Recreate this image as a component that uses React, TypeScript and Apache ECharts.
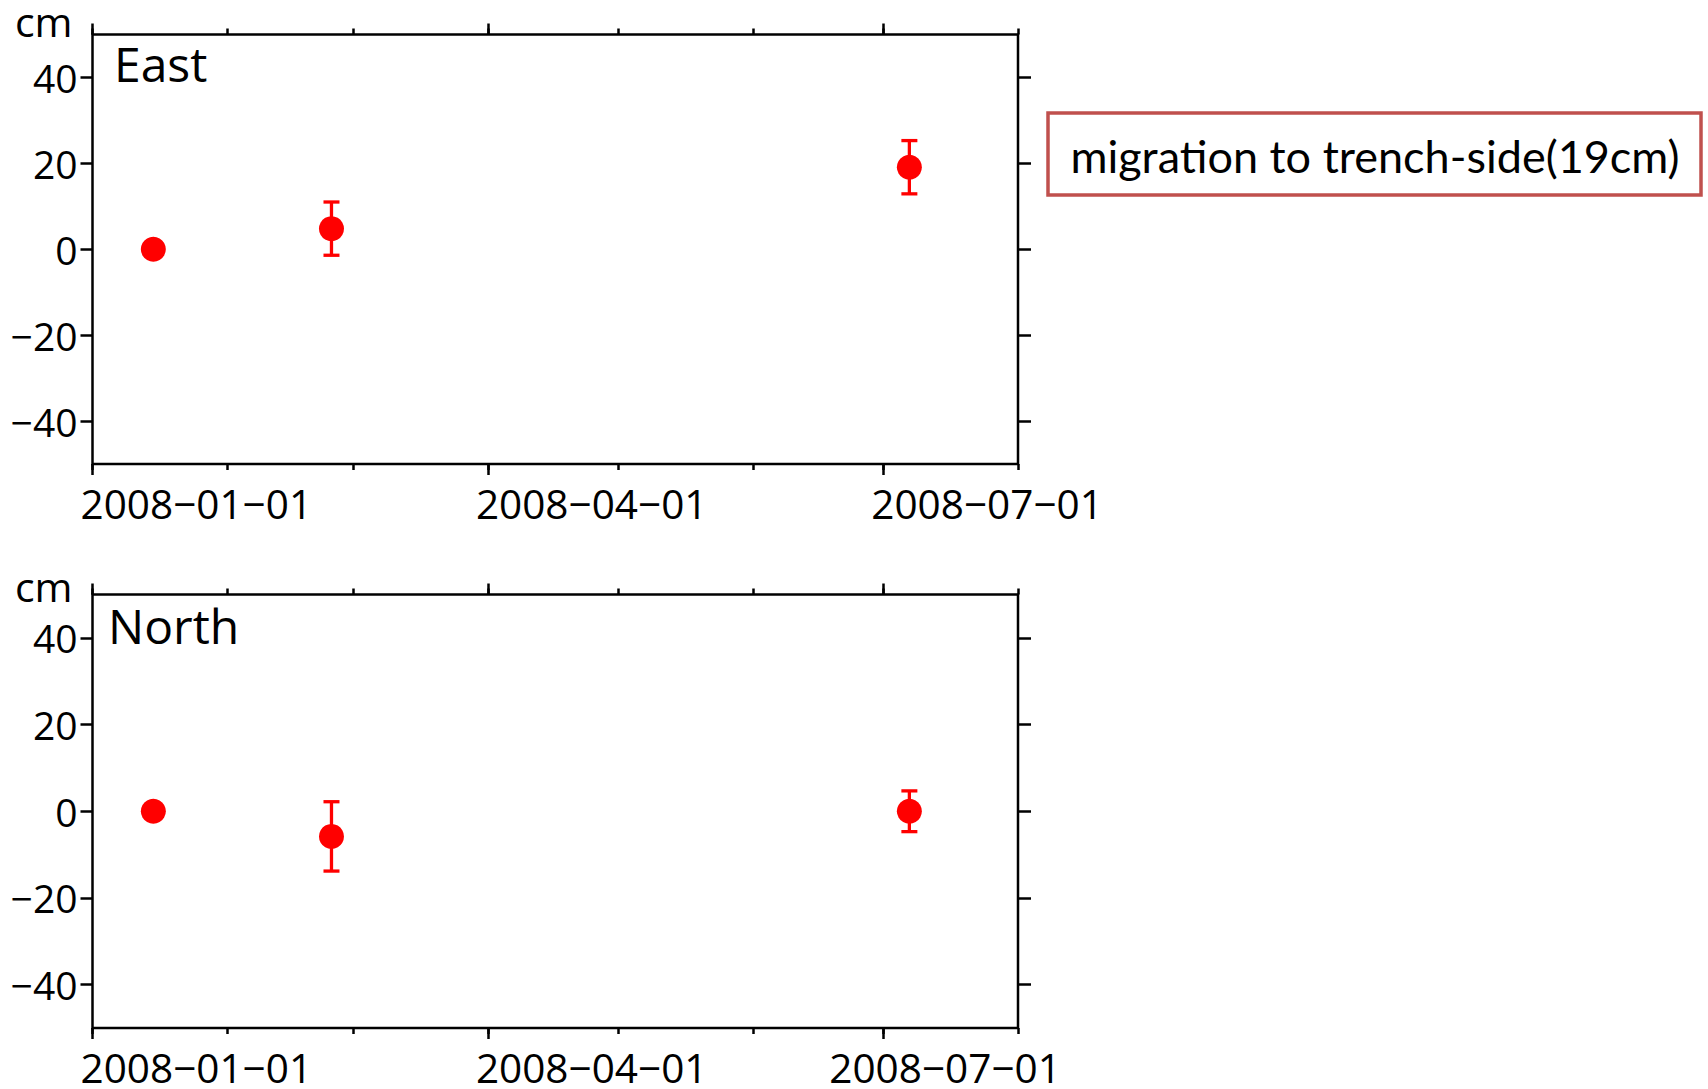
import React, { useEffect, useRef } from 'react';
import * as echarts from 'echarts';

// ---- data ----
const dates = ['2008-01-15', '2008-02-25', '2008-07-07'];
const eastValues = [0, 4.8, 19.1];
const eastErrors = [0, 6.2, 6.2];
const northValues = [0, -5.8, 0];
const northErrors = [0, 8.0, 4.7];
const xRange = ['2008-01-01', '2008-08-01'];
const monthTicks = ['2008-01-01', '2008-02-01', '2008-03-01', '2008-04-01', '2008-05-01', '2008-06-01', '2008-07-01', '2008-08-01'];
const quarterTicks = ['2008-01-01', '2008-04-01', '2008-07-01'];
const yRange = [-50, 50];
const yTicks = [-40, -20, 0, 20, 40];
const panelNames = ['East', 'North'];
const unitLabel = 'cm';
const annotationText = 'migration to trench-side(19cm)';

const FONT = 'Open Sans';
const RED = '#ff0000';
const LABEL_SIZE = 40.5;

const ts = (d: string) => {
  const [y, m, dd] = d.split('-').map(Number);
  return Date.UTC(y, m - 1, dd);
};
const dateLabel = (v: number) => {
  const hit = quarterTicks.find((d) => ts(d) === v);
  return hit ? hit.replace(/-/g, '\u2212') : '';
};
const numLabel = (v: number) => (v < 0 ? '\u2212' + Math.abs(v) : String(v));

export default function App() {
  const ref = useRef<HTMLDivElement>(null);
  useEffect(() => {
    if (!ref.current) return;
    const chart = echarts.init(ref.current, undefined, { renderer: 'svg' });
    const grids = [
      { left: 92.5, top: 31, width: 925.5, height: 433 },
      { left: 92.5, top: 594.5, width: 925.5, height: 433.5 },
    ];
    const xMin = ts(xRange[0]);
    const xMax = ts(xRange[1]);
    const monthTs = monthTicks.map(ts);
    const quarterTs = quarterTicks.map(ts);
    const tickLine = { color: '#000', width: 2.5 };

    const xAxes: any[] = [];
    const yAxes: any[] = [];
    const series: any[] = [];
    const panels = [
      { values: eastValues, errors: eastErrors },
      { values: northValues, errors: northErrors },
    ];

    grids.forEach((_, g) => {
      const base = {
        type: 'value', gridIndex: g, min: xMin, max: xMax,
        axisLine: { show: false, onZero: false }, splitLine: { show: false },
      };
      xAxes.push({
        ...base, position: 'bottom',
        axisTick: { show: true, customValues: monthTs, length: 6, lineStyle: tickLine },
        axisLabel: { show: false },
      });
      xAxes.push({
        ...base, position: 'bottom',
        axisTick: { show: true, customValues: quarterTs, length: 11, lineStyle: tickLine },
        axisLabel: {
          show: true, customValues: quarterTs, margin: 19, align: 'left',
          fontFamily: FONT, fontSize: LABEL_SIZE, lineHeight: 40, color: '#000', padding: [0, 0, 0, -12],
          formatter: (v: number) => {
            const s = dateLabel(v);
            return g === 1 && v === quarterTs[2] ? `{s|${s}}` : `{n|${s}}`;
          },
          rich: {
            n: { fontFamily: FONT, fontSize: LABEL_SIZE, lineHeight: 40, color: '#000' },
            s: { fontFamily: FONT, fontSize: LABEL_SIZE, lineHeight: 40, color: '#000', padding: [0, 0, 0, -42] },
          },
        },
      });
      xAxes.push({
        ...base, position: 'top',
        axisTick: { show: true, customValues: monthTs, length: 6, lineStyle: tickLine },
        axisLabel: { show: false },
      });
      xAxes.push({
        ...base, position: 'top',
        axisTick: { show: true, customValues: quarterTs, length: 11, lineStyle: tickLine },
        axisLabel: { show: false },
      });

      yAxes.push({
        type: 'value', gridIndex: g, position: 'left', min: yRange[0], max: yRange[1],
        axisLine: { show: false, onZero: false }, splitLine: { show: false },
        axisTick: { show: true, customValues: yTicks, length: 12, lineStyle: tickLine },
        axisLabel: {
          show: true, customValues: yTicks, margin: 15, formatter: numLabel,
          fontFamily: FONT, fontSize: 39, color: '#000',
        },
        name: unitLabel, nameLocation: 'end', nameGap: g === 0 ? -1 : -6.5,
        nameTextStyle: {
          fontFamily: FONT, fontSize: 41, lineHeight: 30, color: '#000',
          align: 'right', verticalAlign: 'bottom', padding: [0, 20, 0, 0],
        },
      });
      yAxes.push({
        type: 'value', gridIndex: g, position: 'right', min: yRange[0], max: yRange[1],
        axisLine: { show: false, onZero: false }, splitLine: { show: false },
        axisTick: { show: true, customValues: yTicks, length: 13, lineStyle: tickLine },
        axisLabel: { show: false },
      });

      const p = panels[g];
      series.push({
        type: 'custom', xAxisIndex: 4 * g, yAxisIndex: 2 * g, z: 2,
        encode: { x: 0, y: [1, 2] },
        data: dates.map((d, i) => [ts(d), p.values[i] - p.errors[i], p.values[i] + p.errors[i]]),
        renderItem: (params: any, api: any) => {
          const x = api.value(0);
          const top = api.coord([x, api.value(2)]);
          const bot = api.coord([x, api.value(1)]);
          const hw = 8;
          const style = { stroke: RED, lineWidth: 3.3 };
          return {
            type: 'group',
            children: [
              { type: 'line', shape: { x1: top[0], y1: top[1], x2: bot[0], y2: bot[1] }, style },
              { type: 'line', shape: { x1: top[0] - hw, y1: top[1], x2: top[0] + hw, y2: top[1] }, style },
              { type: 'line', shape: { x1: bot[0] - hw, y1: bot[1], x2: bot[0] + hw, y2: bot[1] }, style },
            ],
          };
        },
      });
      series.push({
        type: 'scatter', xAxisIndex: 4 * g, yAxisIndex: 2 * g, z: 3,
        symbol: 'circle', symbolSize: 25,
        itemStyle: { color: RED, opacity: 1 },
        data: dates.map((d, i) => [ts(d), p.values[i]]),
      });
    });

    chart.setOption({
      animation: false,
      backgroundColor: '#fff',
      title: [
        { text: panelNames[0], left: 109, top: 34, padding: 5, textStyle: { fontFamily: FONT, fontSize: 48, fontWeight: 'normal', color: '#000' } },
        { text: panelNames[1], left: 103, top: 596, padding: 5, textStyle: { fontFamily: FONT, fontSize: 48, fontWeight: 'normal', color: '#000' } },
      ],
      grid: grids.map((r) => ({ ...r, show: true, borderColor: '#000', borderWidth: 2.5, backgroundColor: 'transparent', containLabel: false })),
      xAxis: xAxes,
      yAxis: yAxes,
      series,
      graphic: [
        {
          type: 'rect', shape: { x: 1048, y: 113, width: 653, height: 82 },
          style: { fill: '#fff', stroke: '#c0504d', lineWidth: 3.5 }, z: 10,
        },
        {
          type: 'text', x: 1375, y: 156, z: 11,
          style: {
            text: annotationText, fill: '#000', fontFamily: 'Lato', fontSize: 45,
            align: 'center', verticalAlign: 'middle', textAlign: 'center', textVerticalAlign: 'middle',
          },
        },
      ],
    });
    return () => chart.dispose();
  }, []);
  return <div ref={ref} style={{ position: 'absolute', left: 0, top: 0, width: 1708, height: 1089 }} />;
}
